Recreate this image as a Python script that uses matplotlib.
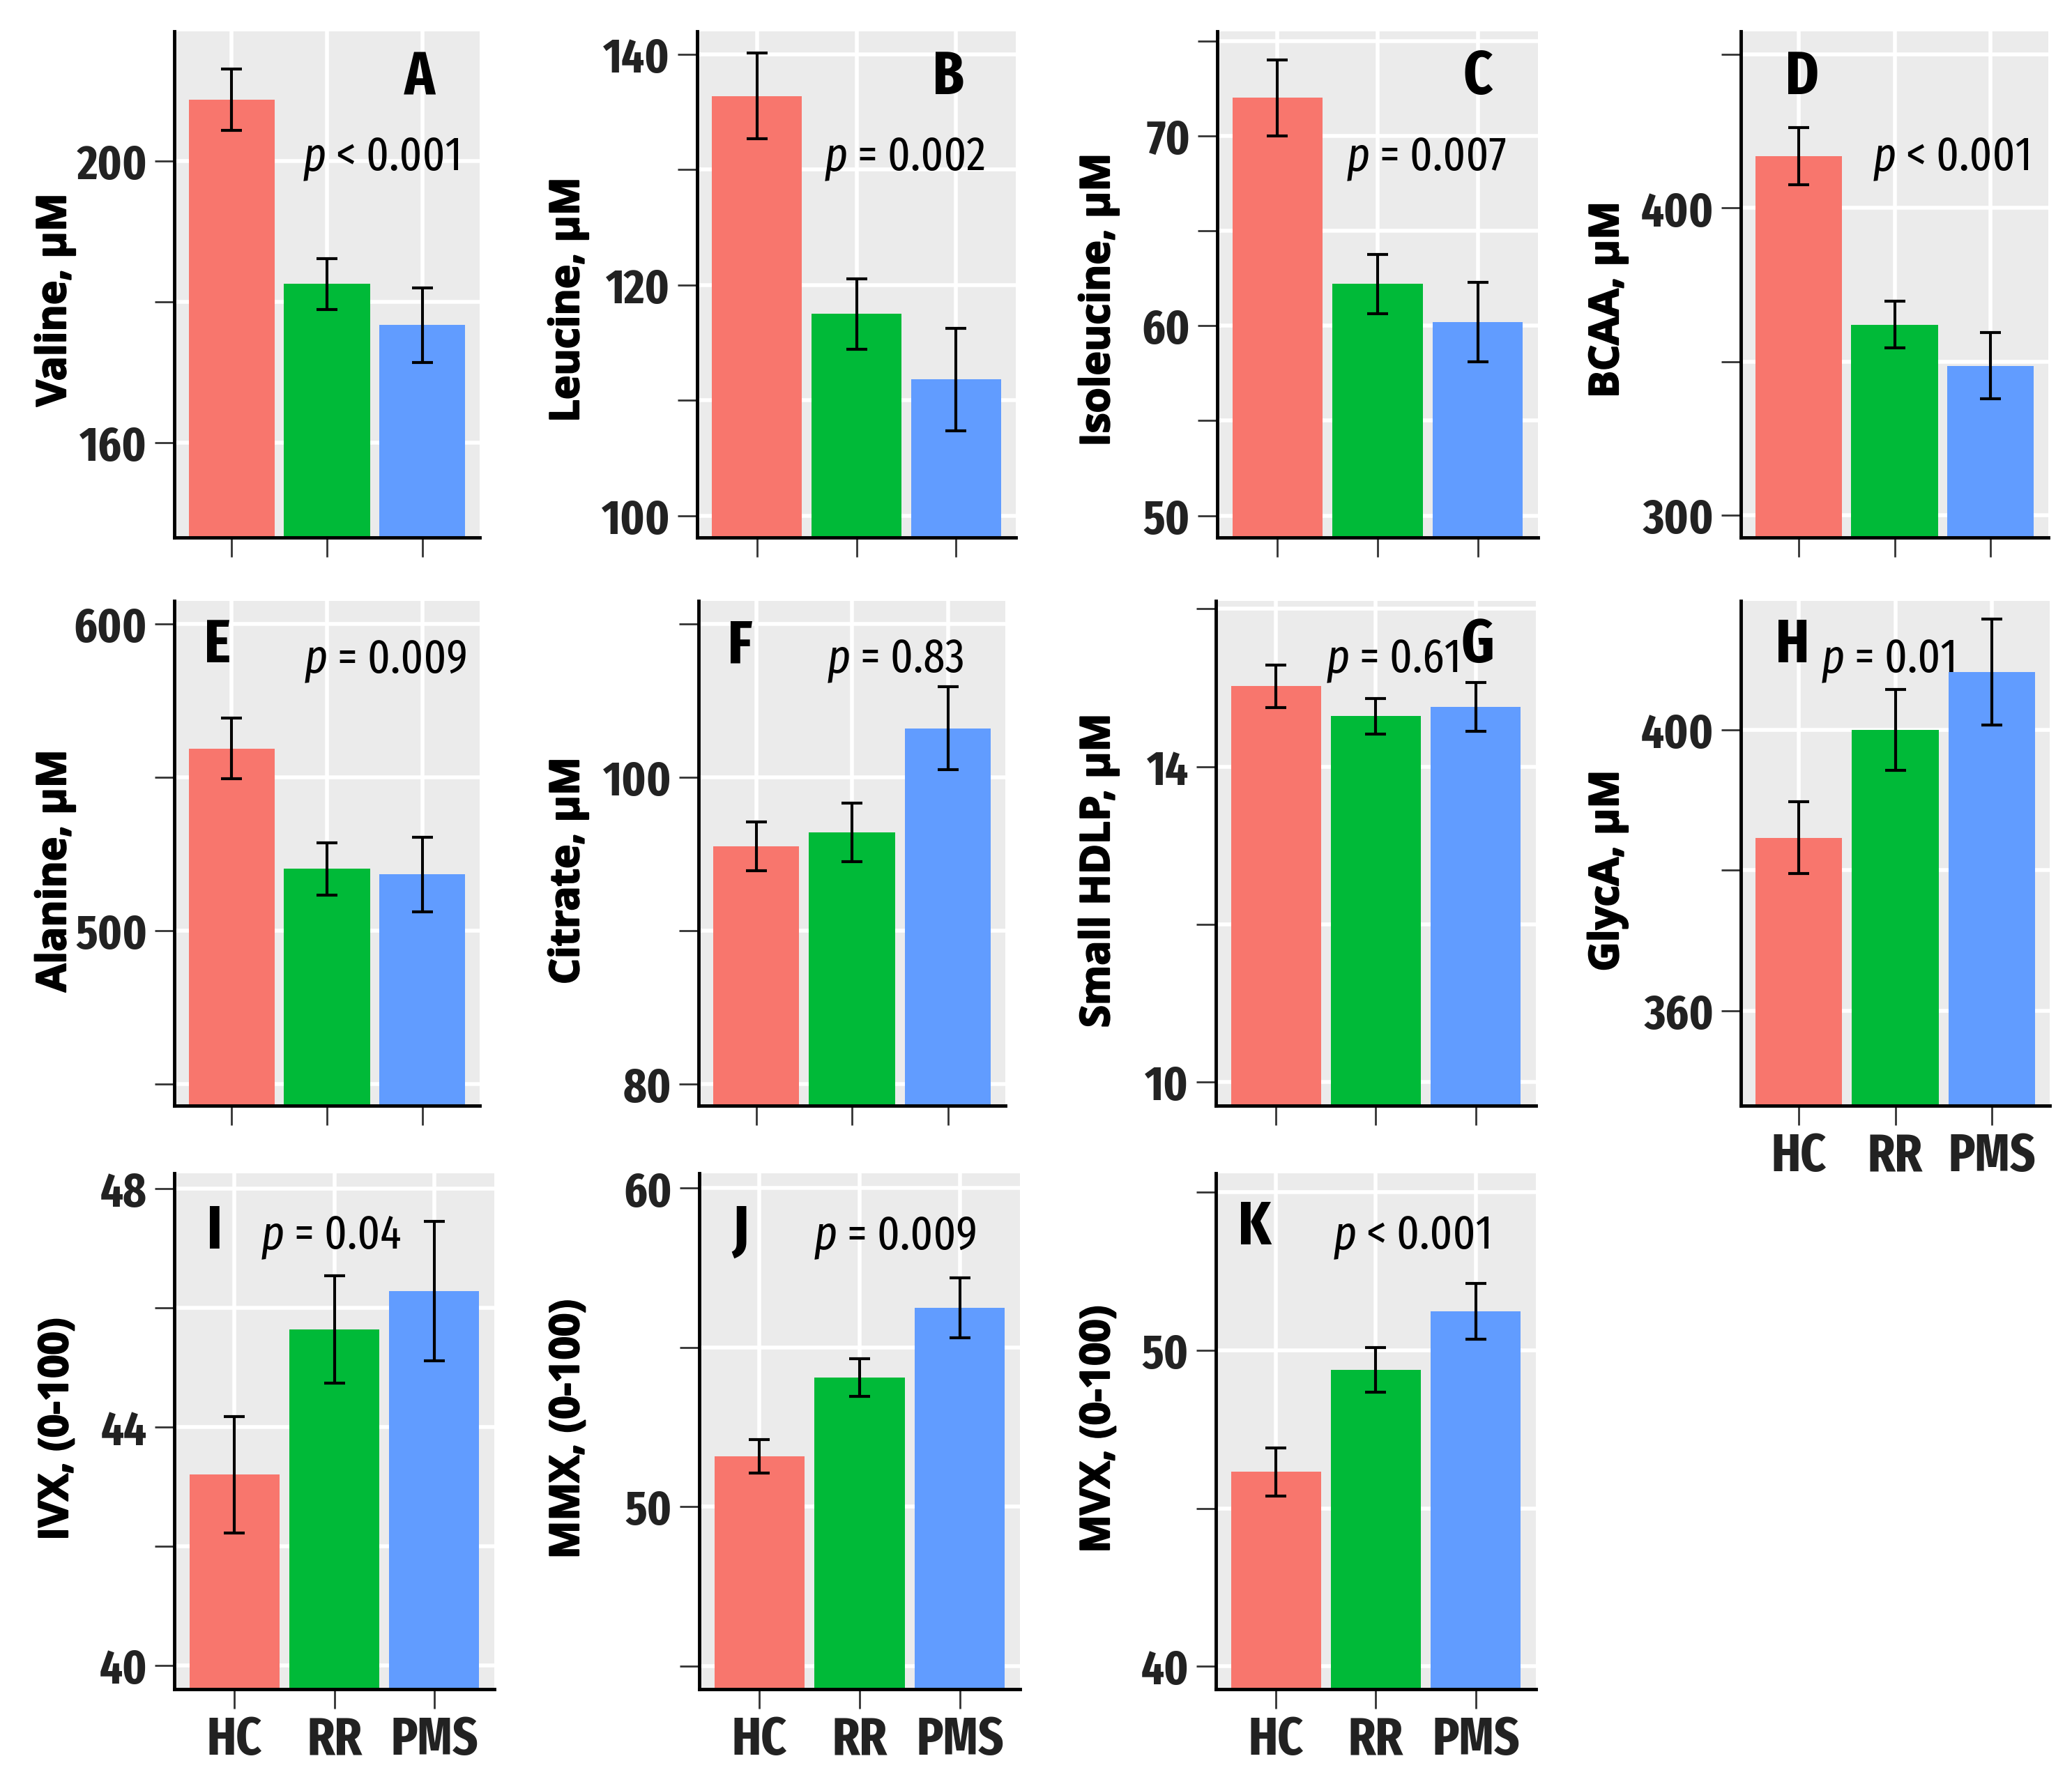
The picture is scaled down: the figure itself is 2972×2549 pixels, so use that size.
import matplotlib
matplotlib.use("Agg")
import matplotlib.pyplot as plt
import matplotlib.font_manager as fm
import matplotlib.patheffects as pe
from matplotlib.font_manager import FontProperties

# ---------------- data ----------------
groups = ["HC", "RR", "PMS"]
bar_colors = ["#F8766D", "#00BA38", "#619CFF"]

panel_letters = ["A", "B", "C", "D", "E", "F", "G", "H", "I", "J", "K"]
y_titles = ["Valine, μM", "Leucine, μM", "Isoleucine, μM", "BCAA, μM",
            "Alanine, μM", "Citrate, μM", "Small HDLP, μM", "GlycA, μM",
            "IVX, (0-100)", "MMX, (0-100)", "MVX, (0-100)"]
p_texts = ["< 0.001", "= 0.002", "= 0.007", "< 0.001", "= 0.009", "= 0.83",
           "= 0.61", "= 0.01", "= 0.04", "= 0.009", "< 0.001"]

valine_mean = [208.7, 182.5, 176.7];   valine_se = [4.4, 3.6, 5.3]
leucine_mean = [136.4, 117.5, 111.8];  leucine_se = [3.7, 3.05, 4.45]
isoleucine_mean = [72.0, 62.2, 60.2];  isoleucine_se = [2.0, 1.55, 2.1]
bcaa_mean = [416.9, 362.1, 348.7];     bcaa_se = [9.4, 7.5, 10.7]
alanine_mean = [559.3, 520.1, 518.3];  alanine_se = [9.9, 8.6, 12.2]
citrate_mean = [95.5, 96.4, 103.2];    citrate_se = [1.6, 1.9, 2.7]
hdlp_mean = [15.02, 14.64, 14.76];     hdlp_se = [0.27, 0.225, 0.31]
glyca_mean = [384.6, 400.0, 408.2];    glyca_se = [5.1, 5.75, 7.55]
ivx_mean = [43.2, 45.64, 46.28];       ivx_se = [0.98, 0.9, 1.17]
mmx_mean = [51.58, 54.05, 56.24];      mmx_se = [0.52, 0.59, 0.94]
mvx_mean = [46.15, 49.38, 51.23];      mvx_se = [0.75, 0.7, 0.88]

means = [valine_mean, leucine_mean, isoleucine_mean, bcaa_mean, alanine_mean,
         citrate_mean, hdlp_mean, glyca_mean, ivx_mean, mmx_mean, mvx_mean]
ses = [valine_se, leucine_se, isoleucine_se, bcaa_se, alanine_se,
       citrate_se, hdlp_se, glyca_se, ivx_se, mmx_se, mvx_se]

y_limits = [(146.5, 218.4), (98.1, 142.0), (48.85, 75.5), (292.8, 457.5),
            (443.0, 607.4), (78.6, 111.5), (9.7, 16.1), (346.5, 418.3),
            (39.6, 48.26), (44.27, 60.47), (39.28, 55.6)]
y_ticks = [[160, 180, 200], [100, 110, 120, 130, 140], [50, 55, 60, 65, 70, 75],
           [300, 350, 400, 450], [450, 500, 550, 600], [80, 90, 100, 110],
           [10, 12, 14, 16], [360, 380, 400], [40, 42, 44, 46, 48],
           [45, 50, 55, 60], [40, 45, 50, 55]]
y_ticklabels = [["160", "", "200"], ["100", "", "120", "", "140"],
                ["50", "", "60", "", "70", ""], ["300", "", "400", ""],
                ["", "500", "", "600"], ["80", "", "100", ""],
                ["10", "", "14", ""], ["360", "", "400"],
                ["40", "", "44", "", "48"], ["", "50", "", "60"],
                ["40", "", "50", ""]]
show_xlabels = [False, False, False, False, False, False, False, True, True, True, True]

# ---------------- layout (pixels of a 2972 x 2549 canvas) ----------------
W, H = 2972, 2549
panel_boxes = [  # left, right, top, bottom
    (250, 688, 45, 771), (1000, 1457, 45, 771), (1746, 2206, 45, 771), (2497, 2938, 45, 771),
    (250, 688, 862, 1586), (1002, 1442, 862, 1586), (1744, 2203, 862, 1586), (2497, 2940, 862, 1586),
    (250, 709, 1683, 2423), (1003, 1463, 1683, 2423), (1744, 2203, 1683, 2423)]
letter_pos = [(0.804, 0.876), (0.788, 0.876), (0.813, 0.876), (0.200, 0.876),
              (0.142, 0.878), (0.136, 0.878), (0.817, 0.878), (0.167, 0.878),
              (0.126, 0.854), (0.128, 0.854), (0.122, 0.862)]
p_pos = [(0.422, 0.726), (0.400, 0.726), (0.404, 0.726), (0.431, 0.726),
         (0.427, 0.859), (0.420, 0.859), (0.346, 0.859), (0.262, 0.859),
         (0.272, 0.854), (0.359, 0.854), (0.368, 0.854)]
ytitle_pos = [(79, 430), (815, 430), (1576, 430), (2306, 430),
              (79, 1249), (815, 1249), (1576, 1249), (2306, 1249),
              (82, 2050), (815, 2050), (1576, 2050)]

# ---------------- fonts ----------------
WEIGHTS = {"ultralight": 200, "light": 300, "normal": 400, "regular": 400, "book": 400,
           "medium": 500, "roman": 400, "semibold": 600, "demibold": 600, "demi": 600,
           "bold": 700, "heavy": 800, "extra bold": 800, "black": 900}


def cond_rank(f):
    low = (f.name + " " + f.fname).lower().replace(" ", "").replace("-", "").replace("_", "")
    if "liberationsansnarrow" in low:
        return 0
    if "dejavu" in low and "condensed" in low:
        return 5
    if "semicondensed" in low:
        return 6
    if "extracondensed" in low:
        return 1
    if "condensed" in low or "narrow" in low:
        return 2
    if str(f.stretch) not in ("normal", "500", "semi-expanded", "expanded"):
        return 3
    return 99


def pick_font(bold, italic):
    best, best_score = None, 1e9
    for f in fm.fontManager.ttflist:
        if not f.fname.lower().endswith((".ttf", ".otf")):
            continue
        r = cond_rank(f)
        if r >= 99:
            continue
        w = f.weight if isinstance(f.weight, int) else WEIGHTS.get(str(f.weight).lower(), 400)
        it = f.style in ("italic", "oblique")
        score = r * 10 + abs(w - (700 if bold else 400)) / 50 + (0 if it == italic else 6)
        if score < best_score:
            best, best_score = f, score
    if best is None:
        return FontProperties(family=["Liberation Sans", "DejaVu Sans"],
                              weight="bold" if bold else "normal",
                              style="italic" if italic else "normal")
    return FontProperties(fname=best.fname)


fp_bold = pick_font(True, False)
fp_reg = pick_font(False, False)
fp_it = pick_font(False, True)


def sized(fp, size):
    p = fp.copy()
    p.set_size(size)
    return p


title_fp = FontProperties(family=["Open Sans", "DejaVu Sans"], weight="bold", size=42)
title_effect = [pe.withStroke(linewidth=1.6, foreground="black")]

# ---------------- draw ----------------
fig = plt.figure(figsize=(W / 100, H / 100), dpi=100)
fig.patch.set_facecolor("white")

x = list(range(1, len(groups) + 1))
for i in range(len(means)):
    L, R, T, B = panel_boxes[i]
    ax = fig.add_axes([L / W, 1 - B / H, (R - L) / W, (B - T) / H])
    ax.set_facecolor("#EBEBEB")
    ax.set_axisbelow(True)
    ax.bar(x, means[i], width=0.9, color=bar_colors, zorder=2)
    ax.errorbar(x, means[i], yerr=ses[i], fmt="none", ecolor="black",
                elinewidth=3.0, capsize=10.5, capthick=3.0, zorder=3)
    ax.set_xlim(0.4, 3.6)
    ax.set_ylim(*y_limits[i])
    ax.set_yticks(y_ticks[i])
    ax.set_yticklabels(y_ticklabels[i])
    ax.set_xticks(x)
    if show_xlabels[i]:
        ax.set_xticklabels(groups)
    else:
        ax.set_xticklabels([""] * len(groups))
    ax.grid(True, color="white", linewidth=4)
    for s in ("top", "right"):
        ax.spines[s].set_visible(False)
    for s in ("left", "bottom"):
        ax.spines[s].set_color("black")
        ax.spines[s].set_linewidth(3.5)
        ax.spines[s].set_capstyle("projecting")
    ax.tick_params(axis="both", direction="out", length=20, width=2, color="#333333")
    ax.tick_params(axis="y", pad=8)
    ax.tick_params(axis="x", pad=6)
    for lab in ax.get_yticklabels():
        lab.set_fontproperties(sized(fp_bold, 50))
        lab.set_color("#222222")
    for lab in ax.get_xticklabels():
        lab.set_fontproperties(sized(fp_bold, 55))
        lab.set_color("#222222")

    lx, ly = letter_pos[i]
    ax.text(lx, ly, panel_letters[i], transform=ax.transAxes, ha="center",
            va="baseline", fontproperties=sized(fp_bold, 63), color="black", zorder=5)
    px, py = p_pos[i]
    pt = ax.text(px, py, "p", transform=ax.transAxes, ha="left", va="baseline",
                 fontproperties=sized(fp_it, 49), color="black", zorder=5)
    ax.annotate(" " + p_texts[i], xy=(1, 0), xycoords=pt, ha="left", va="bottom",
                fontproperties=sized(fp_reg, 49), color="black", zorder=5)

    tx, ty = ytitle_pos[i]
    fig.text(tx / W, 1 - ty / H, y_titles[i], rotation=90, ha="center", va="center",
             fontproperties=title_fp, color="black", path_effects=title_effect)

fig.savefig("out.png", dpi=100, facecolor="white")
